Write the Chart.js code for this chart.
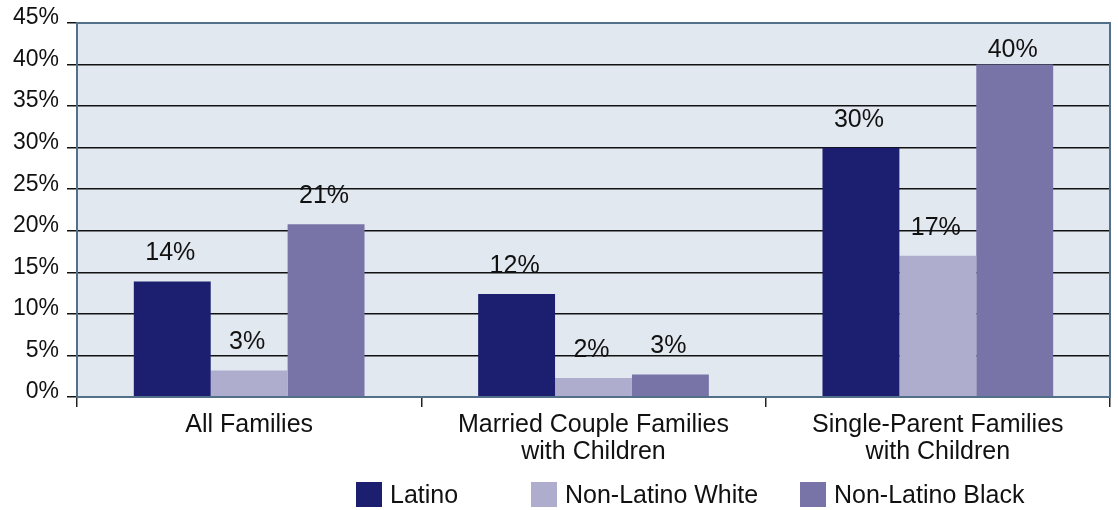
<!DOCTYPE html>
<html>
<head>
<meta charset="utf-8">
<script src="https://cdn.jsdelivr.net/npm/chart.js@4.4.0/dist/chart.umd.min.js"></script>
<style>
  html, body { margin: 0; padding: 0; background: #fff; }
  #wrap { position: relative; width: 1118px; height: 510px; }
  .legend-item { position: absolute; top: 482px; height: 25px; display: flex; align-items: center;
    font-family: 'Liberation Sans', Arial, sans-serif; font-size: 25px; color: #111; white-space: nowrap; }
  .legend-item span.box { display: inline-block; width: 26px; height: 25px; margin-right: 8px; }
</style>
</head>
<body>
<div id="wrap">
  <canvas id="chart" width="1118" height="510"></canvas>
  <div id="legend"></div>
</div>
<script>
const categories = [['All Families'], ['Married Couple Families', 'with Children'], ['Single-Parent Families', 'with Children']];
const seriesNames = ['Latino', 'Non-Latino White', 'Non-Latino Black'];
const latino = [13.9, 12.4, 30.0];
const nonLatinoWhite = [3.2, 2.3, 17.0];
const nonLatinoBlack = [20.8, 2.7, 40.0];
const yTicks = [0, 5, 10, 15, 20, 25, 30, 35, 40, 45];

const colors = ['#1c1f70', '#aeadcd', '#7874a8'];
const legendLeft = [356, 531, 800];
const fontFamily = "'Liberation Sans', Arial, sans-serif";

// plot background and frame
const framePlugin = {
    id: 'frame',
    beforeDraw(chart) {
        const a = chart.chartArea, ctx = chart.ctx;
        ctx.save();
        ctx.fillStyle = '#e2e8f0';
        ctx.fillRect(a.left, a.top, a.right - a.left, a.bottom - a.top);
        ctx.restore();
    },
    afterDatasetsDraw(chart) {
        const a = chart.chartArea, ctx = chart.ctx;
        ctx.save();
        ctx.strokeStyle = '#527089';
        ctx.lineWidth = 2;
        ctx.strokeRect(a.left, a.top, a.right - a.left, a.bottom - a.top);
        ctx.restore();
    }
};

// value labels above bars
const valueLabels = {
    id: 'valueLabels',
    afterDatasetsDraw(chart) {
        const ctx = chart.ctx;
        ctx.save();
        ctx.font = '25px ' + fontFamily;
        ctx.fillStyle = '#111';
        ctx.textAlign = 'center';
        ctx.textBaseline = 'middle';
        chart.data.datasets.forEach((ds, i) => {
            chart.getDatasetMeta(i).data.forEach((bar, j) => {
                const y = Math.max(bar.y - 28, chart.chartArea.top + 27);
                ctx.fillText(Math.round(ds.data[j]) + '%', bar.x - 2, y);
            });
        });
        ctx.restore();
    }
};

const ctx = document.getElementById('chart').getContext('2d');
const chart = new Chart(ctx, {
    type: 'bar',
    data: {
        labels: categories,
        datasets: [latino, nonLatinoWhite, nonLatinoBlack].map((d, i) => ({
            label: seriesNames[i],
            data: d,
            backgroundColor: colors[i],
            borderWidth: 0,
            categoryPercentage: 0.67,
            barPercentage: 1.0
        }))
    },
    options: {
        responsive: false,
        animation: false,
        layout: { padding: { top: 23, right: 8, left: 0, bottom: 0 } },
        plugins: {
            legend: { display: false },
            tooltip: { enabled: false },
            title: { display: false }
        },
        scales: {
            x: {
                offset: true,
                grid: { offset: true, drawOnChartArea: false, drawTicks: true, tickLength: 10, color: '#222', lineWidth: 1.5 },
                border: { display: false },
                ticks: { color: '#111', padding: 5, font: { family: fontFamily, size: 25, lineHeight: 1.08 } },
                afterFit(scale) { scale.height = 113; }
            },
            y: {
                min: 0,
                max: 45,
                afterBuildTicks(scale) { scale.ticks = yTicks.map(v => ({ value: v })); },
                grid: { color: '#111', lineWidth: 1.5, tickLength: 10 },
                border: { display: false },
                ticks: {
                    color: '#111',
                    padding: 8,
                    labelOffset: -5,
                    font: { family: fontFamily, size: 23 },
                    callback: v => v + '%'
                },
                afterFit(scale) { scale.width = 77; }
            }
        }
    },
    plugins: [framePlugin, valueLabels]
});

const legend = document.getElementById('legend');
seriesNames.forEach((name, i) => {
    const item = document.createElement('div');
    item.className = 'legend-item';
    item.style.left = legendLeft[i] + 'px';
    item.innerHTML = '<span class="box" style="background:' + colors[i] + '"></span>' + name;
    legend.appendChild(item);
});
</script>
</body>
</html>
